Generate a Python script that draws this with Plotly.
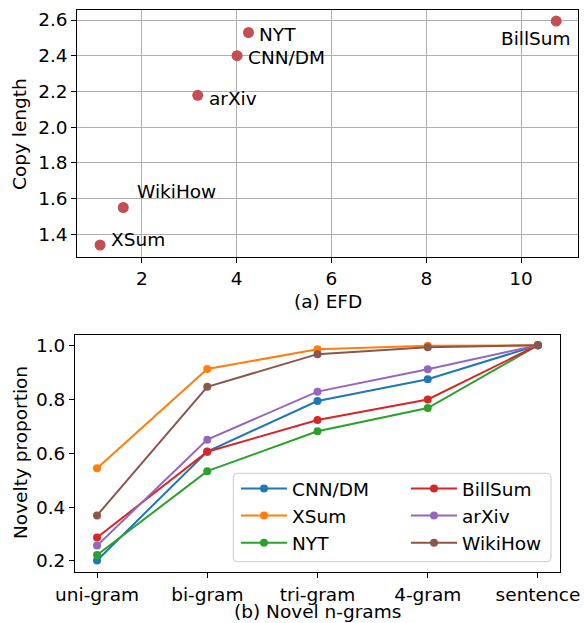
import plotly.graph_objects as go

# ---- Data: (a) EFD scatter ----
datasets = ["CNN/DM", "XSum", "NYT", "BillSum", "arXiv", "WikiHow"]
efd = [4.01, 1.12, 4.25, 10.74, 3.18, 1.61]
copy_length = [2.40, 1.34, 2.53, 2.594, 2.178, 1.55]

# ---- Data: (b) Novel n-grams ----
ngram_labels = ["uni-gram", "bi-gram", "tri-gram", "4-gram", "sentence"]
novelty = {
    "CNN/DM": [0.202, 0.606, 0.793, 0.874, 1.0],
    "XSum": [0.544, 0.912, 0.985, 0.998, 1.0],
    "NYT": [0.222, 0.533, 0.681, 0.767, 1.0],
    "BillSum": [0.287, 0.605, 0.723, 0.799, 1.0],
    "arXiv": [0.257, 0.650, 0.828, 0.911, 1.0],
    "WikiHow": [0.369, 0.846, 0.967, 0.993, 1.0],
}
line_colors = {
    "CNN/DM": "#1f77b4", "XSum": "#ff7f0e", "NYT": "#2ca02c",
    "BillSum": "#d62728", "arXiv": "#9467bd", "WikiHow": "#8c564b",
}
legend_slot = {  # two legend columns like matplotlib ncol=2
    "CNN/DM": ("legend", 1), "XSum": ("legend", 2), "NYT": ("legend", 3),
    "BillSum": ("legend2", 1), "arXiv": ("legend2", 2), "WikiHow": ("legend2", 3),
}

# label offsets in pixels (xshift, yshift, xanchor)
label_pos = {
    "CNN/DM": (9, -2, "left"), "XSum": (9, 6, "left"), "NYT": (9, -2, "left"),
    "BillSum": (-20, -17, "center"), "arXiv": (9, -3, "left"), "WikiHow": (12, 16, "left"),
}

W, H = 585, 623
FONT = "DejaVu Sans"
FS = 18.5

fig = go.Figure()

fig.add_trace(go.Scatter(
    x=efd, y=copy_length, mode="markers",
    marker=dict(size=11, color="#c44e52"),
    showlegend=False, xaxis="x", yaxis="y", hoverinfo="skip",
))

for name in datasets:
    lg, rank = legend_slot[name]
    fig.add_trace(go.Scatter(
        x=ngram_labels, y=novelty[name], mode="lines+markers", name=name,
        line=dict(color=line_colors[name], width=2),
        marker=dict(size=8, color=line_colors[name]),
        xaxis="x2", yaxis="y2", legend=lg, legendrank=rank,
    ))

annotations = []
for name, xv, yv in zip(datasets, efd, copy_length):
    dx, dy, anc = label_pos[name]
    annotations.append(dict(
        x=xv, y=yv, xref="x", yref="y", text=name, showarrow=False,
        xshift=dx, yshift=dy, xanchor=anc, yanchor="middle",
        font=dict(family=FONT, size=FS, color="black"),
    ))

def title_ann(text, x, y, angle=0):
    return dict(x=x, y=y, xref="paper", yref="paper", text=text, showarrow=False,
                xanchor="center", yanchor="middle", textangle=angle,
                font=dict(family=FONT, size=FS, color="black"))

annotations += [
    title_ann("(a) EFD", 328 / W, 1 - 301.5 / H),
    title_ann("(b) Novel n-grams", 317 / W, 1 - 611.5 / H),
    title_ann("Copy length", 20 / W, 1 - 134 / H, -90),
    title_ann("Novelty proportion", 20 / W, 1 - 453 / H, -90),
]

# legend frame with rounded corners
x0, x1 = 233.3 / W, 551 / W
y0, y1 = 1 - 561.7 / H, 1 - 473.3 / H
rx, ry = 4 / W, 4 / H
path = (f"M{x0+rx},{y1} L{x1-rx},{y1} Q{x1},{y1} {x1},{y1-ry} "
        f"L{x1},{y0+ry} Q{x1},{y0} {x1-rx},{y0} L{x0+rx},{y0} "
        f"Q{x0},{y0} {x0},{y0+ry} L{x0},{y1-ry} Q{x0},{y1} {x0+rx},{y1} Z")

axis_common = dict(
    showline=True, linecolor="black", linewidth=1, mirror=True,
    ticks="outside", ticklen=5, tickwidth=1, tickcolor="black",
    tickfont=dict(family=FONT, size=FS, color="black"), zeroline=False,
    automargin=False,
)

legend_common = dict(
    bgcolor="rgba(0,0,0,0)", borderwidth=0, orientation="v",
    font=dict(family=FONT, size=FS, color="black"),
    xanchor="left", yanchor="top", itemwidth=46, tracegroupgap=0,
)

fig.update_layout(
    width=W, height=H, margin=dict(l=0, r=0, t=0, b=0, autoexpand=False),
    paper_bgcolor="white", plot_bgcolor="white",
    font=dict(family=FONT, size=FS, color="black"),
    xaxis=dict(domain=[77.3 / W, 578 / W], range=[0.64, 11.2],
               tickvals=[2, 4, 6, 8, 10], showgrid=True, gridcolor="#b0b0b0",
               gridwidth=1, anchor="y", **axis_common),
    yaxis=dict(domain=[1 - 256.7 / H, 1 - 10 / H], range=[1.2745, 2.656],
               tickvals=[1.4, 1.6, 1.8, 2.0, 2.2, 2.4, 2.6], tickformat=".1f",
               showgrid=True, gridcolor="#b0b0b0", gridwidth=1, anchor="x",
               **axis_common),
    xaxis2=dict(domain=[75 / W, 560 / W], range=[-0.2, 4.2], type="category",
                showgrid=False, anchor="y2", **axis_common),
    yaxis2=dict(domain=[1 - 572.3 / H, 1 - 335 / H], range=[0.158, 1.038],
                tickvals=[0.2, 0.4, 0.6, 0.8, 1.0], tickformat=".1f",
                showgrid=False, anchor="x2", **axis_common),
    legend=dict(x=236 / W, y=1 - 470 / H, **legend_common),
    legend2=dict(x=406 / W, y=1 - 470 / H, **legend_common),
    shapes=[dict(type="path", path=path, xref="paper", yref="paper",
                 fillcolor="rgba(255,255,255,0.8)",
                 line=dict(color="#cccccc", width=1), layer="above")],
    annotations=annotations,
    showlegend=True,
)

fig.write_html(
    "out.html",
    config={"displayModeBar": False},
    post_script="document.body.style.margin='0';document.body.style.overflow='hidden';",
)
